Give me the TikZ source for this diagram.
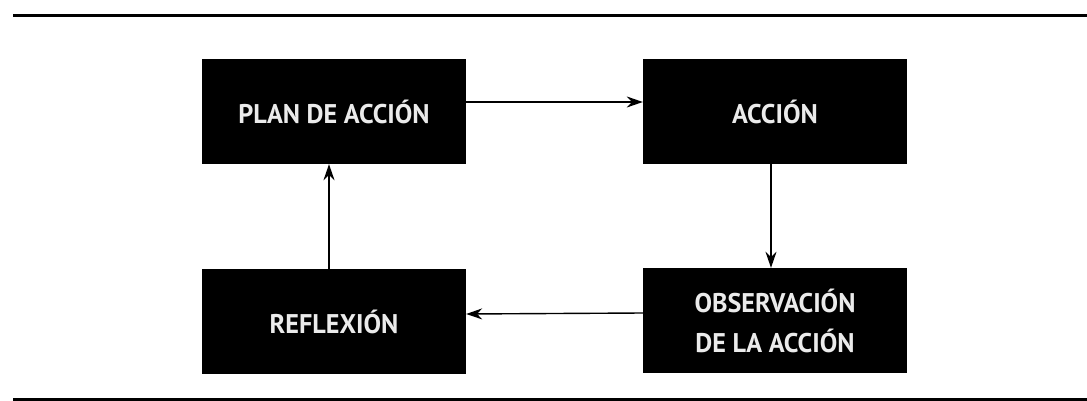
\documentclass[tikz,border=0pt]{standalone}
\usepackage{fontspec}
\setmainfont{PT Sans}
\newfontfamily\boxfont[FakeStretch=0.97]{PT Sans Bold}
\usetikzlibrary{arrows.meta}
\begin{document}
\begin{tikzpicture}[x=1pt,y=-1pt,
  blk/.style={fill=black, draw=none, minimum width=264pt, minimum height=105pt,
    inner sep=0pt, text=white!92!black, align=center,
    font=\boxfont\fontsize{27}{40}\selectfont},
  arr/.style={-{Stealth[length=16pt,width=11pt]}, line width=1.4pt},
  rule/.style={line width=3pt}]
\useasboundingbox (0,0) rectangle (1087,401);
\coordinate (tl) at (13,16);
\coordinate (tr) at (1087,16);
\coordinate (bl) at (13,399);
\coordinate (br) at (1087,399);
\draw[rule] (tl) -- (tr);
\draw[rule] (bl) -- (br);
\node[blk] (plan) at (334,111.5) {PLAN DE ACCIÓN};
\node[blk] (accion) at (775,111.5) {ACCIÓN};
\node[blk] (ref) at (334,321.5) {REFLEXIÓN};
\node[blk] (obs) at (775,320.5) {OBSERVACIÓN\\DE LA ACCIÓN};
\draw[arr] ([yshift=9.5pt]plan.east) -- ([yshift=9.5pt]accion.west);
\draw[arr] ([xshift=-4pt]accion.south) -- ([xshift=-4pt]obs.north);
\draw[arr] ([yshift=7.5pt]obs.west) -- ([yshift=7.5pt]ref.east);
\draw[arr] ([xshift=-5pt]ref.north) -- ([xshift=-5pt]plan.south);
\end{tikzpicture}
\end{document}
